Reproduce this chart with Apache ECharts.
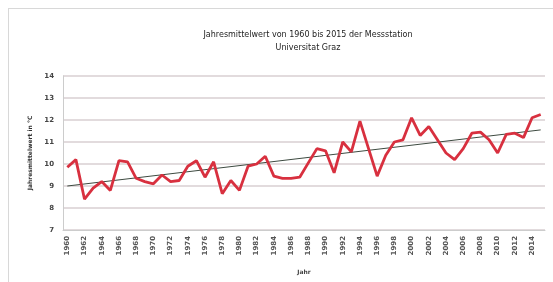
<!DOCTYPE html>
<html>
<head>
<meta charset="utf-8">
<script src="https://cdn.jsdelivr.net/npm/echarts@6/dist/echarts.min.js"></script>
<style>
  html, body { margin: 0; padding: 0; background: #fff; }
  #frame { position: absolute; left: 8px; top: 8px; width: 560px; height: 290px; border: 1px solid #d8d8d8; box-sizing: border-box; }
  #chart { position: absolute; left: 0; top: 0; width: 553px; height: 282px; }
</style>
</head>
<body>
<div id="frame"></div>
<div id="chart"></div>
<script>
// Jahre 1960 - 2015
const years = []
for (let y = 1960; y <= 2015; y++) years.push(String(y))

// Jahresmittel in °C
const temps = [
  9.85, 10.2, 8.4, 8.9, 9.2, 8.8, 10.15, 10.1, 9.35, 9.2,
  9.1, 9.5, 9.2, 9.25, 9.9, 10.15, 9.4, 10.1, 8.65, 9.25,
  8.8, 9.9, 10.0, 10.35, 9.45, 9.35, 9.35, 9.4, 10.05, 10.7,
  10.6, 9.6, 11.0, 10.55, 11.95, 10.7, 9.45, 10.4, 11.0, 11.1,
  12.1, 11.3, 11.7, 11.1, 10.5, 10.2, 10.7, 11.4, 11.45, 11.1,
  10.5, 11.35, 11.4, 11.2, 12.1, 12.25
]

// Trendlinie: Anfangs- und Endwert
const trendStart = ['1960', 9.0]
const trendEnd = ['2015', 11.55]

const yTicks = [7, 8, 9, 10, 11, 12, 13, 14]

const chart = echarts.init(document.getElementById('chart'))
chart.setOption({
  animation: false,
  textStyle: { fontFamily: 'DejaVu Sans' },
  title: {
    text: 'Jahresmittelwert von 1960 bis 2015 der Messstation\nUniversitat Graz',
    left: 303,
    top: 23,
    textAlign: 'center',
    textStyle: { fontSize: 8, fontWeight: 'normal', color: '#222', lineHeight: 13 }
  },
  grid: { left: 63, right: 8, top: 76, bottom: 52 },
  xAxis: {
    type: 'category',
    data: years,
    boundaryGap: true,
    name: 'Jahr',
    nameLocation: 'middle',
    nameGap: 39,
    nameTextStyle: { fontSize: 6, color: '#444', fontWeight: 'bold' },
    axisLine: { lineStyle: { color: '#cccccc' } },
    axisTick: { show: false },
    axisLabel: { interval: 1, rotate: 90, fontSize: 7, color: '#555', fontWeight: 'bold', margin: 6 }
  },
  yAxis: {
    type: 'value',
    min: yTicks[0],
    max: yTicks[yTicks.length - 1],
    interval: 1,
    name: 'Jahresmittelwert in °C',
    nameLocation: 'middle',
    nameGap: 24,
    nameRotate: 90,
    nameTextStyle: { fontSize: 6, color: '#333', fontWeight: 'bold' },
    axisLine: { show: true, lineStyle: { color: '#cccccc' } },
    axisTick: { show: false },
    axisLabel: { fontSize: 7, color: '#444', fontWeight: 'bold', margin: 9 },
    splitLine: { lineStyle: { color: '#d8cfd2', width: 1.5 } }
  },
  series: [
    {
      type: 'line',
      data: temps,
      symbol: 'none',
      lineStyle: { color: '#d8303f', width: 2.8 },
      z: 3,
      markLine: {
        silent: true,
        symbol: ['none', 'none'],
        label: { show: false },
        lineStyle: { color: '#3d4a40', width: 1, type: 'solid' },
        data: [[{ coord: trendStart }, { coord: trendEnd }]],
        z: 2
      }
    }
  ]
})
</script>
</body>
</html>
